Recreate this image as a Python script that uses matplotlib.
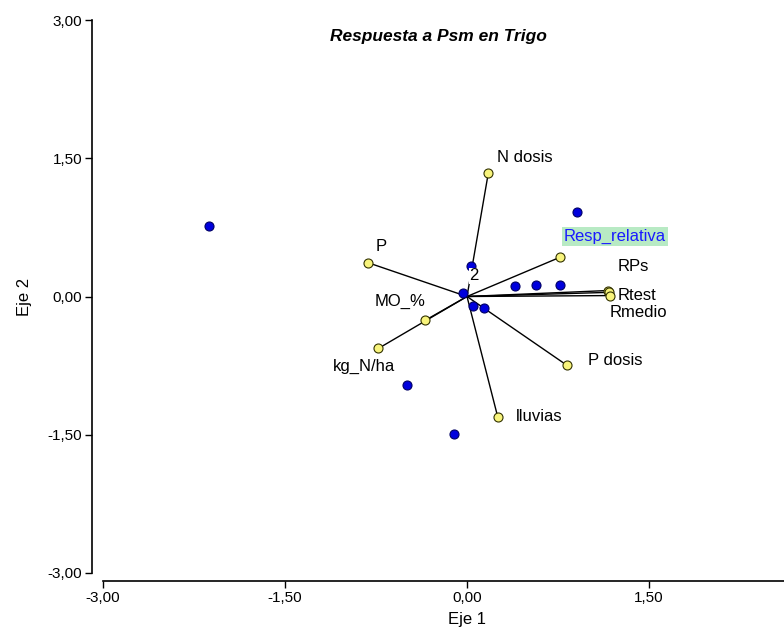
import matplotlib.pyplot as plt
from matplotlib.ticker import FixedLocator

plt.rcParams['font.family'] = ['Liberation Sans', 'DejaVu Sans']

# variables (yellow points, vectors from origin)
var_names = ['N dosis', 'Resp_relativa', 'P', 'RPs', 'Rtest', 'Rmedio',
             'MO_%', 'kg_N/ha', 'P dosis', 'lluvias']
var_x = [0.176, 0.767, -0.814, 1.165, 1.17, 1.175, -0.346, -0.731, 0.822, 0.253]
var_y = [1.342, 0.426, 0.366, 0.065, 0.045, 0.010, -0.260, -0.564, -0.745, -1.305]
# where the labels sit
lab_x = [0.247, 0.80, -0.75, 1.245, 1.245, 1.179, -0.758, -1.105, 0.998, 0.404]
lab_y = [1.508, 0.651, 0.542, 0.325, 0.011, -0.174, -0.054, -0.759, -0.694, -1.300]

# observations (blue points)
obs_x = [-2.127, 0.904, 0.033, -0.035, 0.047, 0.140, 0.396, 0.569, 0.767, -0.497, -0.107]
obs_y = [0.770, 0.914, 0.329, 0.033, -0.105, -0.123, 0.112, 0.123, 0.123, -0.965, -1.489]

xticks = [-3.0, -1.5, 0.0, 1.5]
xtick_labels = ['-3,00', '-1,50', '0,00', '1,50']
yticks = [-3.0, -1.5, 0.0, 1.5, 3.0]
ytick_labels = ['-3,00', '-1,50', '0,00', '1,50', '3,00']

fig = plt.figure(figsize=(7.84, 6.32), dpi=100)
ax = fig.add_axes([103 / 784, 59 / 632, 728 / 784, 553 / 632])

for x, y in zip(var_x, var_y):
    ax.plot([0, x], [0, y], color='black', linewidth=1.0, zorder=2)

ax.plot(obs_x, obs_y, marker='o', linewidth=0, markersize=6.5,
        markerfacecolor='#0000dd', markeredgecolor='#000066', markeredgewidth=0.8, zorder=3)
ax.plot(var_x, var_y, marker='o', linewidth=0, markersize=6.5,
        markerfacecolor='#f8f47c', markeredgecolor='#333300', markeredgewidth=0.8, zorder=4)

for name, x, y in zip(var_names, lab_x, lab_y):
    if name == 'Resp_relativa':
        ax.text(x, y, name, fontsize=12, color='#1a1aff', ha='left', va='center', zorder=5,
                bbox=dict(facecolor='#b8eac4', edgecolor='none', pad=1.2))
    else:
        ax.text(x, y, name, fontsize=12, color='black', ha='left', va='center', zorder=5)

ax.text(0.058, 0.225, '2', fontsize=12, ha='center', va='center', zorder=5,
        bbox=dict(facecolor='white', edgecolor='none', pad=0.5))

ax.set_xlim(-3, 3)
ax.set_ylim(-3, 3)
ax.xaxis.set_major_locator(FixedLocator(xticks))
ax.yaxis.set_major_locator(FixedLocator(yticks))
ax.set_xticklabels(xtick_labels)
ax.set_yticklabels(ytick_labels)
ax.tick_params(labelsize=11, length=5, width=1, pad=2)

ax.spines['top'].set_visible(False)
ax.spines['right'].set_visible(False)
ax.spines['left'].set_position(('outward', 8))
ax.spines['bottom'].set_position(('outward', 6))
ax.spines['left'].set_linewidth(1.2)
ax.spines['bottom'].set_linewidth(1.2)

ax.set_xlabel('Eje 1', fontsize=12, labelpad=5)
ax.set_ylabel('Eje 2', fontsize=12, labelpad=11)
fig.text(438.5 / 784, 1 - 37 / 632, 'Respuesta a Psm en Trigo', fontsize=12.5,
         fontweight='bold', fontstyle='italic', ha='center', va='center')

fig.savefig('out.png', dpi=100)
